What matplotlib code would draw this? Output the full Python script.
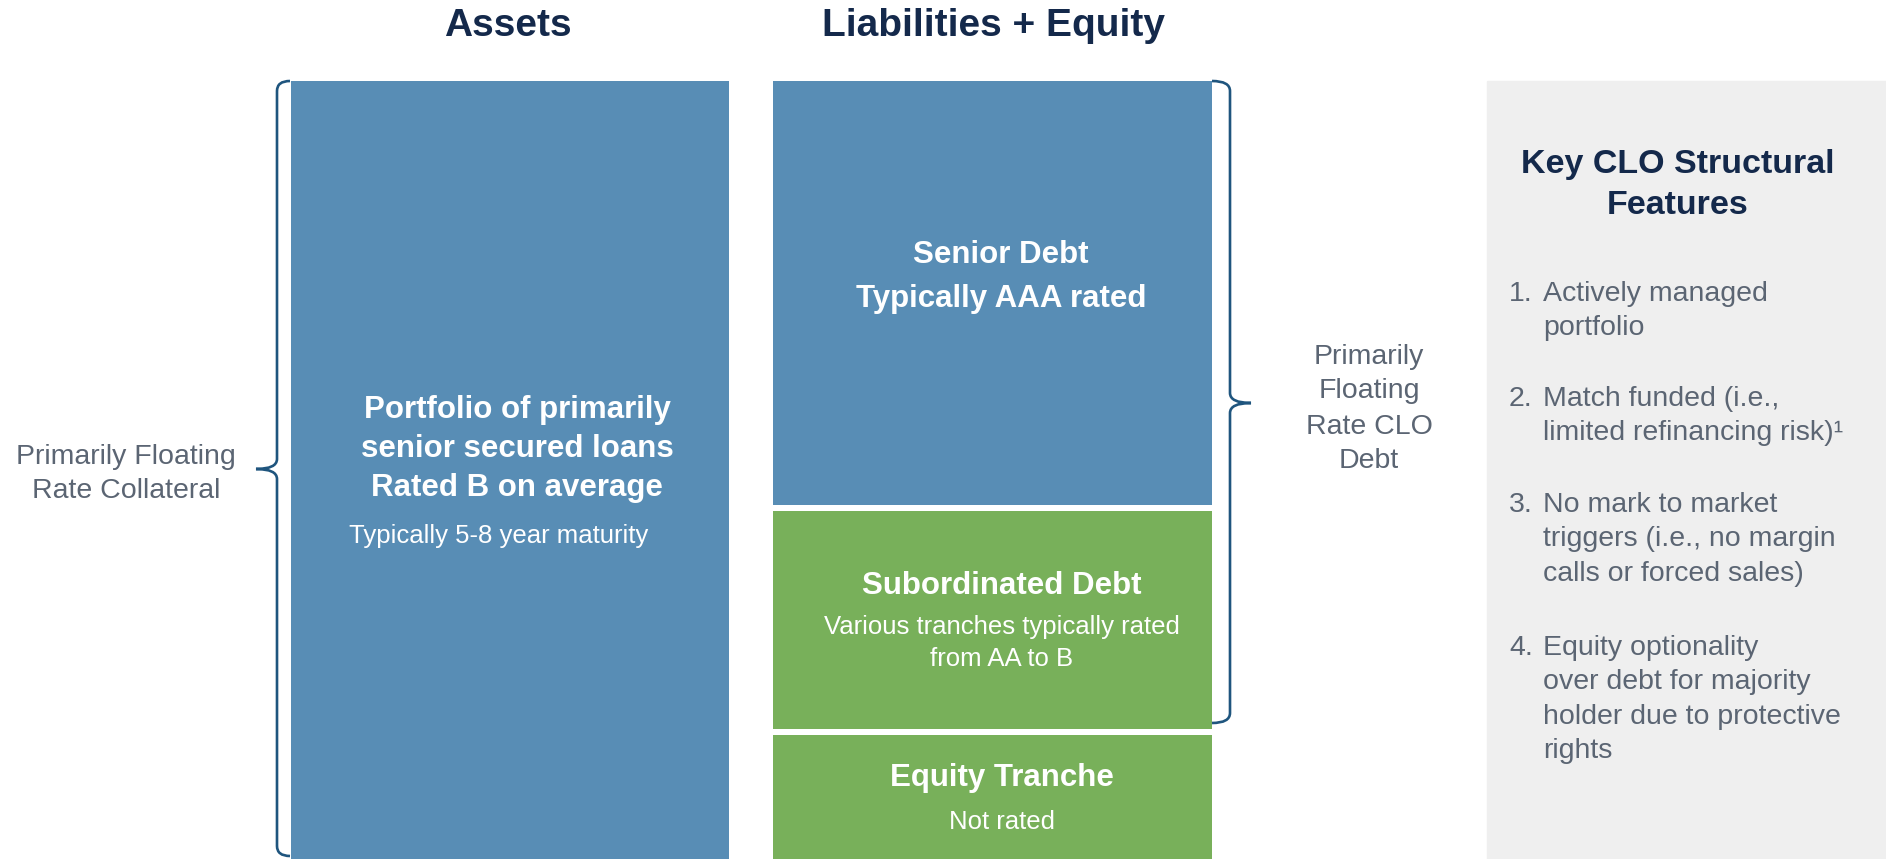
import matplotlib
matplotlib.use("Agg")
import matplotlib.pyplot as plt
from matplotlib.path import Path
from matplotlib.patches import PathPatch, Rectangle

plt.rcParams['font.family'] = ['Liberation Sans', 'DejaVu Sans']

# ---- data (pixel-ish units) ----
column_titles = ["Assets", "Liabilities + Equity"]
asset_height = [778]
liab_labels = ["Senior Debt", "Subordinated Debt", "Equity Tranche"]
liab_sublabels = ["Typically AAA rated", "Various tranches typically rated\nfrom AA to B", "Not rated"]
liab_heights = [430, 224, 130]
features = [
    "Actively managed\nportfolio",
    "Match funded (i.e.,\nlimited refinancing risk)\u00b9",
    "No mark to market\ntriggers (i.e., no margin\ncalls or forced sales)",
    "Equity optionality\nover debt for majority\nholder due to protective\nrights",
]

BLUE = "#588db5"
GREEN = "#78b05a"
NAVY = "#14294b"
BRACE = "#1f557e"
GREY_TXT = "#5b6573"
PANEL = "#efefef"

W, H = 1886, 859
fig = plt.figure(figsize=(W / 100, H / 100), dpi=100)
ax = fig.add_axes([0, 0, 1, 1])
ax.set_xlim(0, W)
ax.set_ylim(H, 0)
ax.axis("off")

top = 81
gap = 6.5

# asset bar
ax.bar(510, asset_height[0], width=438, bottom=top, color=BLUE, align="center")

# liabilities stack
bottom = top
for i, h in enumerate(liab_heights):
    hh = h - gap if i < len(liab_heights) - 1 else h
    ax.bar(992, hh, width=439, bottom=bottom, color=BLUE if i == 0 else GREEN)
    bottom += h

# grey panel
ax.add_patch(Rectangle((1487, top), W - 1487, H - top, color=PANEL, zorder=0))

# titles
ax.text(508, 26, column_titles[0], ha="center", va="center", fontsize=28,
        fontweight="bold", color=NAVY)
ax.text(993, 26, column_titles[1], ha="center", va="center", fontsize=28,
        fontweight="bold", color=NAVY)

# asset text
ax.text(517, 449, "Portfolio of primarily\nsenior secured loans\nRated B on average",
        ha="center", va="center", fontsize=22.5, fontweight="bold", color="white",
        linespacing=1.4)
ax.text(499, 536, "Typically 5-8 year maturity", ha="center", va="center",
        fontsize=18.5, color="white")

# liability text
ax.text(1001, 255, liab_labels[0], ha="center", va="center", fontsize=22.5,
        fontweight="bold", color="white")
ax.text(1001, 299, liab_sublabels[0], ha="center", va="center", fontsize=22.5,
        fontweight="bold", color="white")
ax.text(1002, 586, liab_labels[1], ha="center", va="center", fontsize=22.5,
        fontweight="bold", color="white")
ax.text(1002, 643, liab_sublabels[1], ha="center", va="center", fontsize=18.5,
        color="white", linespacing=1.38)
ax.text(1002, 778, liab_labels[2], ha="center", va="center", fontsize=22.5,
        fontweight="bold", color="white")
ax.text(1002, 822, liab_sublabels[2], ha="center", va="center", fontsize=18.5,
        color="white")


def brace(x, y0, y1, ym, tip, hook, r=10):
    verts = [
        (x + hook, y0), (x, y0), (x, y0 + r),
        (x, ym - r), (x, ym), (x + tip, ym),
        (x, ym), (x, ym + r),
        (x, y1 - r), (x, y1), (x + hook, y1),
    ]
    codes = [Path.MOVETO, Path.CURVE3, Path.CURVE3,
             Path.LINETO, Path.CURVE3, Path.CURVE3,
             Path.CURVE3, Path.CURVE3,
             Path.LINETO, Path.CURVE3, Path.CURVE3]
    ax.add_patch(PathPatch(Path(verts, codes), fill=False, edgecolor=BRACE, lw=1.9))


brace(277, 81, 856, 469, -21, 13)
brace(1230, 81, 723, 403, 21, -18)

# side labels
ax.text(126, 474, "Primarily Floating\nRate Collateral", ha="center", va="center",
        fontsize=20.5, color=GREY_TXT, linespacing=1.42)
ax.text(1369, 409, "Primarily\nFloating\nRate CLO\nDebt", ha="center", va="center",
        fontsize=20.5, color=GREY_TXT, linespacing=1.45)

# panel
ax.text(1678, 185, "Key CLO Structural\nFeatures", ha="center", va="center",
        fontsize=24.5, fontweight="bold", color=NAVY, linespacing=1.4)
item_tops = [281, 386, 492, 635]
for i, (t, y) in enumerate(zip(features, item_tops)):
    ax.text(1509, y, f"{i + 1}.", ha="left", va="top", fontsize=20.5, color=GREY_TXT)
    ax.text(1543, y, t, ha="left", va="top", fontsize=20.5, color=GREY_TXT,
            linespacing=1.42)

fig.savefig("out.png", dpi=100)
